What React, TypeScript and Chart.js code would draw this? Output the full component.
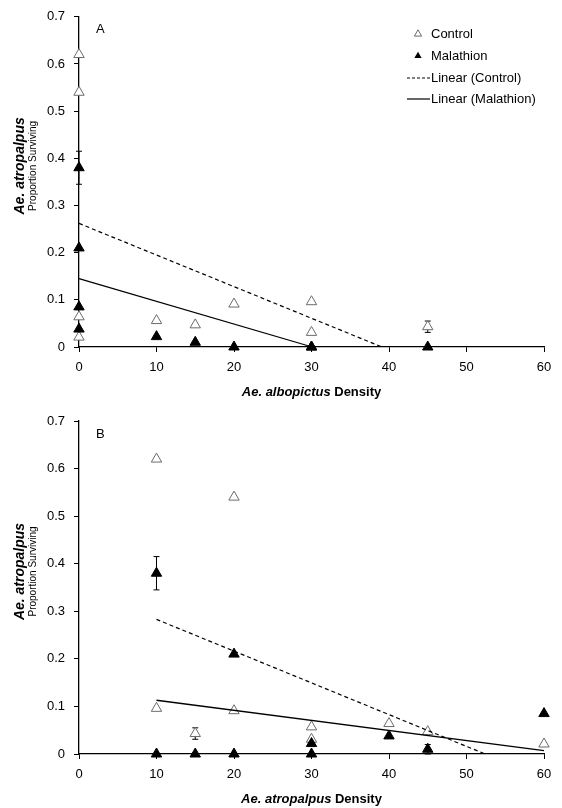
import React, { useEffect, useRef } from 'react';
import { Chart, registerables } from 'chart.js';

Chart.register(...registerables);

const FONT = '"Liberation Sans", Arial, Helvetica, sans-serif';

// ---- Axis ticks ----
const xTickValues = [0, 10, 20, 30, 40, 50, 60];
const yTickValues = [0, 0.1, 0.2, 0.3, 0.4, 0.5, 0.6, 0.7];

// ---- Legend ----
const legendLabels = ['Control', 'Malathion', 'Linear (Control)', 'Linear (Malathion)'];

// ---- Panel A: x = Ae. albopictus density ----
const aControlX = [0, 0, 0, 0, 10, 15, 20, 30, 30, 45];
const aControlY = [0.62, 0.54, 0.064, 0.021, 0.056, 0.047, 0.091, 0.096, 0.031, 0.043];
const aMalathionX = [0, 0, 0, 0, 10, 15, 20, 30, 30, 45];
const aMalathionY = [0.38, 0.21, 0.085, 0.038, 0.022, 0.01, 0, 0, 0, 0];
const aControlTrendX = [0, 39.1];
const aControlTrendY = [0.262, 0];
const aMalathionTrendX = [0, 30.1];
const aMalathionTrendY = [0.145, 0];
const aErrX = [0, 45];
const aErrY = [0.38, 0.043];
const aErr = [0.035, 0.012];

// ---- Panel B: x = Ae. atropalpus density ----
const bControlX = [10, 20, 40, 60, 10, 15, 20, 30, 30, 45];
const bControlY = [0.62, 0.54, 0.064, 0.021, 0.096, 0.043, 0.091, 0.057, 0.031, 0.047];
const bMalathionX = [10, 20, 40, 60, 10, 15, 20, 30, 30, 45];
const bMalathionY = [0.38, 0.21, 0.038, 0.085, 0, 0, 0, 0.022, 0, 0.01];
const bControlTrendX = [10, 52.4];
const bControlTrendY = [0.283, 0];
const bMalathionTrendX = [10, 60];
const bMalathionTrendY = [0.113, 0.007];
const bErrX = [10, 15, 45];
const bErrY = [0.38, 0.043, 0.01];
const bErr = [0.035, 0.012, 0.01];

const zip = (xs: number[], ys: number[]) => xs.map((x, i) => ({ x, y: ys[i] }));

type PanelDef = {
  letter: string;
  xTitleItalic: string;
  controlX: number[]; controlY: number[];
  malX: number[]; malY: number[];
  cTrendX: number[]; cTrendY: number[];
  mTrendX: number[]; mTrendY: number[];
  errX: number[]; errY: number[]; err: number[];
  plotTop: number; xAxisHeight: number;
  showLegend: boolean;
};

const panels: PanelDef[] = [
  {
    letter: 'A', xTitleItalic: 'Ae. albopictus',
    controlX: aControlX, controlY: aControlY, malX: aMalathionX, malY: aMalathionY,
    cTrendX: aControlTrendX, cTrendY: aControlTrendY, mTrendX: aMalathionTrendX, mTrendY: aMalathionTrendY,
    errX: aErrX, errY: aErrY, err: aErr,
    plotTop: 14, xAxisHeight: 57, showLegend: true,
  },
  {
    letter: 'B', xTitleItalic: 'Ae. atropalpus',
    controlX: bControlX, controlY: bControlY, malX: bMalathionX, malY: bMalathionY,
    cTrendX: bControlTrendX, cTrendY: bControlTrendY, mTrendX: bMalathionTrendX, mTrendY: bMalathionTrendY,
    errX: bErrX, errY: bErrY, err: bErr,
    plotTop: 17, xAxisHeight: 54, showLegend: false,
  },
];

const W = 562;
const H = 404;
const OPEN_STROKE = '#6b6b6b';

function makeDecorPlugin(p: PanelDef) {
  return {
    id: 'decor' + p.letter,
    beforeDatasetsDraw(chart: any) {
      const ctx = chart.ctx;
      const xs = chart.scales.x;
      const ys = chart.scales.y;
      ctx.save();
      ctx.strokeStyle = '#000';
      ctx.lineWidth = 1;
      p.errX.forEach((x, i) => {
        const px = xs.getPixelForValue(x);
        const top = ys.getPixelForValue(p.errY[i] + p.err[i]);
        const bot = ys.getPixelForValue(Math.max(0, p.errY[i] - p.err[i]));
        ctx.beginPath();
        ctx.moveTo(px, top); ctx.lineTo(px, bot);
        ctx.moveTo(px - 3, top); ctx.lineTo(px + 3, top);
        ctx.moveTo(px - 3, bot); ctx.lineTo(px + 3, bot);
        ctx.stroke();
      });
      ctx.restore();
    },
    afterDraw(chart: any) {
      const ctx = chart.ctx;
      const area = chart.chartArea;
      ctx.save();
      ctx.fillStyle = '#000';
      // Panel letter
      ctx.font = `13px ${FONT}`;
      ctx.textAlign = 'left';
      ctx.textBaseline = 'middle';
      ctx.fillText(p.letter, area.left + 17, area.top + 13);

      // Y title (rotated, two lines)
      const cy = (area.top + area.bottom) / 2 - 16;
      ctx.save();
      ctx.translate(20, cy);
      ctx.rotate(-Math.PI / 2);
      ctx.textAlign = 'center';
      ctx.textBaseline = 'middle';
      ctx.font = `italic bold 14px ${FONT}`;
      ctx.fillText('Ae. atropalpus', 0, 0);
      ctx.restore();
      ctx.save();
      ctx.translate(33, cy);
      ctx.rotate(-Math.PI / 2);
      ctx.textAlign = 'center';
      ctx.textBaseline = 'middle';
      ctx.font = `10px ${FONT}`;
      ctx.fillText('Proportion Surviving', 0, 0);
      ctx.restore();

      // X title (mixed italic)
      const t1 = p.xTitleItalic;
      const t2 = ' Density';
      ctx.font = `italic bold 13px ${FONT}`;
      const w1 = ctx.measureText(t1).width;
      ctx.font = `bold 13px ${FONT}`;
      const w2 = ctx.measureText(t2).width;
      const cx = (area.left + area.right) / 2;
      const sx = cx - (w1 + w2) / 2;
      const ty = area.bottom + 45.5;
      ctx.textAlign = 'left';
      ctx.textBaseline = 'middle';
      ctx.font = `italic bold 13px ${FONT}`;
      ctx.fillText(t1, sx, ty);
      ctx.font = `bold 13px ${FONT}`;
      ctx.fillText(t2, sx + w1, ty);

      // Legend
      if (p.showLegend) {
        const rows = [34, 56, 78, 99];
        const symX = 418;
        const textX = 431;
        ctx.font = `13px ${FONT}`;
        ctx.textAlign = 'left';
        ctx.textBaseline = 'middle';
        legendLabels.forEach((lab, i) => {
          const y = rows[i];
          ctx.fillStyle = '#000';
          ctx.fillText(lab, textX, y);
          if (i < 2) {
            const r = 4.2;
            ctx.beginPath();
            ctx.moveTo(symX, y - r);
            ctx.lineTo(symX + r * 0.866, y + r * 0.5);
            ctx.lineTo(symX - r * 0.866, y + r * 0.5);
            ctx.closePath();
            if (i === 0) {
              ctx.fillStyle = '#fff';
              ctx.fill();
              ctx.strokeStyle = OPEN_STROKE;
              ctx.lineWidth = 1;
              ctx.stroke();
            } else {
              ctx.fillStyle = '#000';
              ctx.fill();
            }
          } else {
            ctx.beginPath();
            ctx.strokeStyle = '#000';
            ctx.lineWidth = 1.2;
            ctx.setLineDash(i === 2 ? [3, 2] : []);
            ctx.moveTo(407, y);
            ctx.lineTo(430, y);
            ctx.stroke();
            ctx.setLineDash([]);
          }
        });
      }
      ctx.restore();
    },
  };
}

function makeConfig(p: PanelDef): any {
  return {
    type: 'scatter',
    data: {
      datasets: [
        {
          label: 'Linear (Control)',
          data: zip(p.cTrendX, p.cTrendY),
          showLine: true,
          borderColor: '#000',
          borderWidth: 1.2,
          borderDash: [4, 3],
          pointRadius: 0,
          clip: false,
          order: 1,
        },
        {
          label: 'Linear (Malathion)',
          data: zip(p.mTrendX, p.mTrendY),
          showLine: true,
          borderColor: '#000',
          borderWidth: 1.3,
          pointRadius: 0,
          clip: false,
          order: 1,
        },
        {
          label: 'Control',
          data: zip(p.controlX, p.controlY),
          pointStyle: 'triangle',
          pointRadius: 6,
          pointBackgroundColor: '#fff',
          pointBorderColor: OPEN_STROKE,
          pointBorderWidth: 1,
          clip: false,
          order: 3,
        },
        {
          label: 'Malathion',
          data: zip(p.malX, p.malY),
          pointStyle: 'triangle',
          pointRadius: 6,
          pointBackgroundColor: '#000',
          pointBorderColor: '#000',
          pointBorderWidth: 1,
          clip: false,
          order: 2,
        },
      ],
    },
    options: {
      responsive: false,
      animation: false,
      events: [],
      layout: { padding: { left: 0, right: W - 544, top: p.plotTop, bottom: 0 } },
      plugins: { legend: { display: false }, tooltip: { enabled: false } },
      scales: {
        x: {
          type: 'linear',
          min: 0,
          max: 60,
          afterBuildTicks: (s: any) => { s.ticks = xTickValues.map((v) => ({ value: v })); },
          afterFit: (s: any) => { s.height = p.xAxisHeight; },
          ticks: {
            color: '#000',
            font: { family: FONT, size: 13 },
            padding: 8,
            maxRotation: 0,
            callback: (v: any) => String(v),
          },
          grid: { drawOnChartArea: false, drawTicks: true, tickLength: 5, color: '#000', lineWidth: 1 },
          border: { color: '#000', width: 1.3 },
        },
        y: {
          type: 'linear',
          min: 0,
          max: 0.7,
          afterBuildTicks: (s: any) => { s.ticks = yTickValues.map((v) => ({ value: v })); },
          afterFit: (s: any) => { s.width = 79; },
          ticks: {
            color: '#000',
            font: { family: FONT, size: 13 },
            padding: 9,
            callback: (v: any) => (v === 0 ? '0' : Number(v).toFixed(1)),
          },
          grid: { drawOnChartArea: false, drawTicks: true, tickLength: 5, color: '#000', lineWidth: 1 },
          border: { color: '#000', width: 1.3 },
        },
      },
    },
    plugins: [makeDecorPlugin(p)],
  };
}

function Panel({ p, top }: { p: PanelDef; top: number }) {
  const ref = useRef<HTMLCanvasElement | null>(null);
  useEffect(() => {
    if (!ref.current) return;
    const chart = new Chart(ref.current, makeConfig(p));
    return () => chart.destroy();
  }, [p]);
  return (
    <canvas
      ref={ref}
      width={W}
      height={H}
      style={{ position: 'absolute', left: 0, top, width: W, height: H, display: 'block' }}
    />
  );
}

export default function App() {
  return (
    <div style={{ position: 'absolute', left: 0, top: 0, width: W, height: 808, background: '#fff' }}>
      <Panel p={panels[0]} top={0} />
      <Panel p={panels[1]} top={404} />
    </div>
  );
}
